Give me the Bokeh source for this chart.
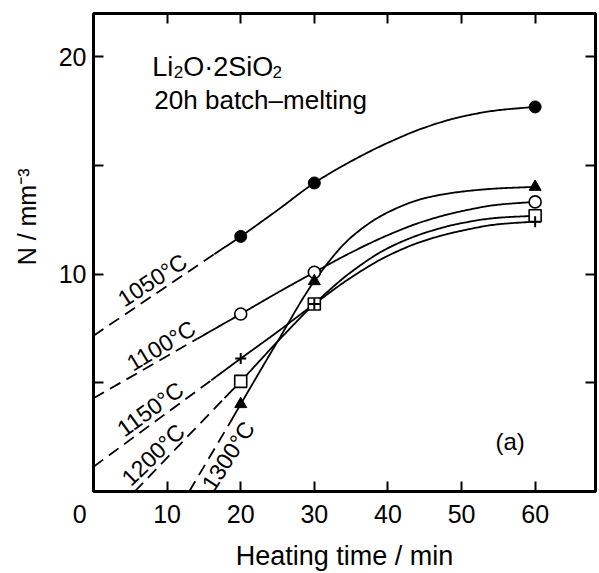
import numpy as np
from bokeh.plotting import figure
from bokeh.models import Range1d, LinearAxis, FixedTicker, Label, ColumnDataSource, Title
from bokeh.core.properties import value
from bokeh.embed import file_html
from bokeh.resources import INLINE

FONT = "Liberation Sans"

# ---- measured data points (heating time / min, N / mm^-3) ----
t_points = [20, 30, 60]
n_1050 = [11.74, 14.2, 17.7]
n_1100 = [8.17, 10.09, 13.33]
n_1150 = [6.12, 8.63, 12.42]
n_1200 = [5.07, 8.63, 12.69]
n_1300 = [4.02, 9.68, 14.02]

# ---- solid guide curves ----
cx_1050 = [16.4, 20, 25, 30, 35, 40, 45, 50, 55, 60]
cy_1050 = [10.92, 11.74, 12.95, 14.2, 15.2, 16.05, 16.75, 17.25, 17.55, 17.7]
cx_1100 = [14.1, 20, 25, 30, 35, 40, 45, 50, 55, 60]
cy_1100 = [7.03, 8.17, 9.15, 10.09, 11.0, 11.8, 12.45, 12.9, 13.2, 13.33]
cx_1150 = [16.0, 20, 25, 30, 35, 40, 45, 50, 55, 60]
cy_1150 = [5.12, 6.12, 7.35, 8.63, 9.85, 10.85, 11.55, 12.0, 12.3, 12.42]
cx_1200 = [17.8, 20, 25, 30, 35, 40, 45, 50, 55, 60]
cy_1200 = [4.3, 5.07, 6.9, 8.63, 10.1, 11.2, 11.9, 12.35, 12.6, 12.69]
cx_1300 = [18.6, 20, 25, 30, 35, 40, 45, 50, 55, 60]
cy_1300 = [3.2, 4.02, 6.9, 9.68, 11.7, 12.85, 13.5, 13.8, 13.95, 14.02]

# ---- dashed extrapolations ----
dx_1050 = [0, 16.4]; dy_1050 = [7.17, 10.92]
dx_1100 = [0, 14.1]; dy_1100 = [4.29, 7.03]
dx_1150 = [0, 16.0]; dy_1150 = [1.14, 5.12]
dx_1200 = [5.6, 17.8]; dy_1200 = [0, 4.3]
dx_1300 = [13.0, 18.6]; dy_1300 = [0, 3.2]

temp_labels = ["1050°C", "1100°C", "1150°C", "1200°C", "1300°C"]

x_ticks = [0, 10, 20, 30, 40, 50, 60]
x_tick_labels = {0: "0\u00a0\u00a0\u00a0\u00a0"}
top_ticks = [10, 20, 30, 40, 50, 60]
y_ticks = [10, 20]
y_minor = [5, 15]

# label placement (layout, not data)
lab_x = [8.0, 9.2, 7.7, 8.1, 18.3]
lab_y = [9.73, 6.71, 3.79, 1.69, 1.64]
lab_ang_deg = [33, 31, 36, 44, 57]


def smooth(xs, ys, n=24):
    xs = np.asarray(xs, float); ys = np.asarray(ys, float)
    h = np.diff(xs); d = np.diff(ys) / h
    m = np.zeros_like(xs)
    m[0] = d[0]; m[-1] = d[-1]
    for i in range(1, len(xs) - 1):
        if d[i - 1] * d[i] <= 0:
            m[i] = 0
        else:
            w1 = 2 * h[i] + h[i - 1]; w2 = h[i] + 2 * h[i - 1]
            m[i] = (w1 + w2) / (w1 / d[i - 1] + w2 / d[i])
    ox, oy = [], []
    for i in range(len(h)):
        t = np.linspace(0, 1, n, endpoint=(i == len(h) - 1))
        h00 = 2 * t**3 - 3 * t**2 + 1; h10 = t**3 - 2 * t**2 + t
        h01 = -2 * t**3 + 3 * t**2; h11 = t**3 - t**2
        oy.append(h00 * ys[i] + h10 * h[i] * m[i] + h01 * ys[i + 1] + h11 * h[i] * m[i + 1])
        ox.append(xs[i] + t * h[i])
    return np.concatenate(ox), np.concatenate(oy)


p = figure(width=599, height=573, output_backend="svg", toolbar_location=None,
           x_range=Range1d(0, 68.2), y_range=Range1d(0, 22.0),
           min_border_left=92, min_border_right=4, min_border_top=13, min_border_bottom=78)
p.xgrid.visible = False
p.ygrid.visible = False
p.outline_line_color = "black"
p.outline_line_width = 3
p.background_fill_color = "white"
p.border_fill_color = "white"


def style_axis(ax, labels=True):
    ax.axis_line_color = None
    ax.major_tick_in = 10
    ax.major_tick_out = 0
    ax.minor_tick_in = 10
    ax.minor_tick_out = 0
    ax.major_tick_line_width = 2
    ax.minor_tick_line_width = 2
    ax.major_tick_line_color = "black"
    ax.minor_tick_line_color = "black"
    ax.major_label_text_font = FONT
    if labels:
        ax.major_label_text_color = "black"
        ax.major_label_text_font_size = "25px"
        ax.major_label_standoff = 7
    else:
        ax.major_label_text_color = None
        ax.major_label_text_font_size = "1px"
        ax.major_label_standoff = 0


xa = p.xaxis[0]
xa.ticker = FixedTicker(ticks=x_ticks, minor_ticks=[])
xa.major_label_overrides = x_tick_labels
style_axis(xa)
xa.major_label_standoff = 8
xa.axis_label = "Heating time / min"
xa.axis_label_text_font = FONT
xa.axis_label_text_font_size = "27px"
xa.axis_label_text_font_style = "normal"
xa.axis_label_text_color = "black"
xa.axis_label_standoff = 10

ya = p.yaxis[0]
ya.ticker = FixedTicker(ticks=y_ticks, minor_ticks=y_minor)
style_axis(ya)

top = LinearAxis(ticker=FixedTicker(ticks=top_ticks, minor_ticks=[]))
style_axis(top, labels=False)
p.add_layout(top, "above")
right = LinearAxis(ticker=FixedTicker(ticks=y_ticks, minor_ticks=y_minor))
style_axis(right, labels=False)
p.add_layout(right, "right")

ytitle = Title(text="N / mm\u207b\u00b3", align="right", offset=155, standoff=25,
               vertical_align="top",
               text_font=FONT, text_font_size="25px", text_font_style="normal",
               text_color="black")
p.add_layout(ytitle, "left")

LW = 1.8
DASH = "12 7"
for cx, cy in [(cx_1050, cy_1050), (cx_1100, cy_1100), (cx_1150, cy_1150),
               (cx_1200, cy_1200), (cx_1300, cy_1300)]:
    sx, sy = smooth(cx, cy)
    p.line(sx, sy, line_color="black", line_width=LW)
for dx, dy in [(dx_1050, dy_1050), (dx_1100, dy_1100), (dx_1150, dy_1150),
               (dx_1200, dy_1200), (dx_1300, dy_1300)]:
    p.line(dx, dy, line_color="black", line_width=LW, line_dash=DASH)

p.scatter(t_points, n_1050, marker="circle", size=12, fill_color="black", line_color="black")
p.scatter(t_points, n_1100, marker="circle", size=12, fill_color="white", line_color="black", line_width=1.6)
p.scatter(t_points, n_1300, marker="triangle", size=12, fill_color="black", line_color="black")
p.scatter(t_points, n_1200, marker="square", size=12, fill_color="white", line_color="black", line_width=1.6)
p.scatter(t_points, n_1150, marker="cross", size=11, line_color="black", line_width=2)

src = ColumnDataSource(dict(x=lab_x, y=lab_y, text=temp_labels,
                            angle=[np.deg2rad(a) for a in lab_ang_deg]))
p.text(x="x", y="y", text="text", angle="angle", source=src,
       text_font=value(FONT), text_font_size=value("23px"), text_color="black",
       text_align="center", text_baseline="middle")


def lab(x, y, text, size, align="left", baseline="alphabetic", angle=0.0):
    p.add_layout(Label(x=x, y=y, text=text, text_font=FONT, text_font_size=size,
                       text_color="black", text_align=align, text_baseline=baseline,
                       angle=angle))


# compound title Li2O·2SiO2
lab(7.99, 19.54, "Li", "27px")
lab(10.91, 19.30, "2", "17px")
lab(12.2, 19.54, "O·2SiO", "27px")
lab(24.32, 19.30, "2", "17px")
lab(8.27, 18.04, "20h batch–melting", "26px")
lab(54.6, 2.28, "(a)", "24px")

open("out.html", "w").write(file_html(p, INLINE))
